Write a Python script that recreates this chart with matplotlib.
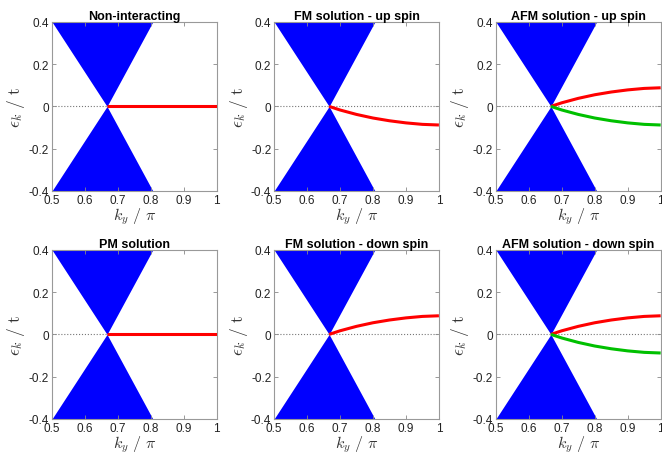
import matplotlib
matplotlib.use("Agg")
import matplotlib.pyplot as plt

plt.rcParams['font.family'] = ['Liberation Sans', 'DejaVu Sans']
plt.rcParams['mathtext.fontset'] = 'cm'

# bulk band edge (upper half); lower half is mirrored
cone_k = [0.5, 0.667, 0.806]
cone_e = [0.40, 0.0, 0.40]

# edge state branch (magnitude)
edge_k = [0.667, 0.70, 0.75, 0.80, 0.85, 0.90, 0.95, 1.0]
edge_e = [0.0, 0.017, 0.038, 0.055, 0.068, 0.078, 0.085, 0.088]

titles = ['Non-interacting', 'FM solution - up spin', 'AFM solution - up spin',
          'PM solution', 'FM solution - down spin', 'AFM solution - down spin']
# sign of red / green branches for each panel (0 = flat, None = absent)
red_sign = [0, -1, 1, 0, 1, 1]
green_sign = [None, None, -1, None, None, -1]

xticks = [0.5, 0.6, 0.7, 0.8, 0.9, 1.0]
xticklabels = ['0.5', '0.6', '0.7', '0.8', '0.9', '1']
yticks = [-0.4, -0.2, 0, 0.2, 0.4]
yticklabels = ['-0.4', '-0.2', '0', '0.2', '0.4']

fig = plt.figure(figsize=(6.62, 4.56), dpi=100)
lefts = [0.0785, 0.414, 0.749]
bottoms = [0.579, 0.079]
w, h = 0.249, 0.371

for i in range(6):
    r, c = divmod(i, 3)
    ax = fig.add_axes([lefts[c], bottoms[r], w, h])

    ax.fill_between(cone_k, cone_e, [0.4] * len(cone_k), color='#0000ff', lw=0)
    ax.fill_between(cone_k, [-0.4] * len(cone_k), [-e for e in cone_e], color='#0000ff', lw=0)
    ax.axhline(0, color='#777777', ls=':', lw=0.8, zorder=1)

    s = red_sign[i]
    ax.plot(edge_k, [s * e for e in edge_e], color='#ff0000', lw=2.2,
            solid_capstyle='butt', zorder=3)
    if green_sign[i] is not None:
        g = green_sign[i]
        ax.plot(edge_k, [g * e for e in edge_e], color='#00c000', lw=2.2,
                solid_capstyle='butt', zorder=3)

    ax.set_xlim(0.5, 1)
    ax.set_ylim(-0.4, 0.4)
    ax.set_xticks(xticks)
    ax.set_xticklabels(xticklabels)
    ax.set_yticks(yticks)
    ax.set_yticklabels(yticklabels)
    ax.tick_params(direction='in', top=True, right=True, length=3, width=0.6,
                   color='#888888', labelsize=8.5, pad=2, labelcolor='#222222')
    for sp in ax.spines.values():
        sp.set_color('#999999')
        sp.set_linewidth(0.8)

    ax.set_title(titles[i], fontsize=9, fontweight='bold', pad=2)
    ax.set_xlabel(r'$k_y\ /\ \pi$', fontsize=11.5, labelpad=0, color='#333333')
    ax.set_ylabel(r'$\epsilon_k\ /\ \mathrm{t}$', fontsize=12.5, labelpad=1, color='#333333')

fig.savefig('out.png', dpi=100)
